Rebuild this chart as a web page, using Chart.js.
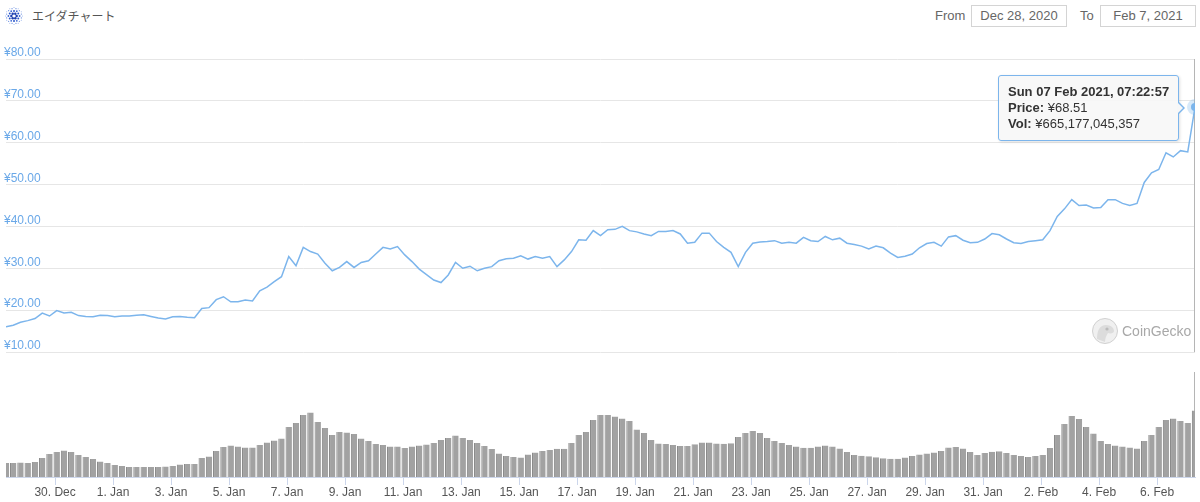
<!DOCTYPE html>
<html>
<head>
<meta charset="utf-8">
<script src="https://cdn.jsdelivr.net/npm/chart.js@4"></script>
<style>
  body { margin: 0; width: 1200px; height: 502px; background: #fff; position: relative; overflow: hidden;
         font-family: "Liberation Sans", Arial, sans-serif; }
  .abs { position: absolute; }
  #title { left: 32px; top: 7px; font: 12px "Noto Sans CJK JP", sans-serif; color: #555; line-height: 18px; }
  .lbl { top: 8px; font-size: 13px; color: #666; line-height: 16px; }
  .datebox { top: 5px; height: 20px; width: 94px; border: 1px solid #d4d4d4; font-size: 13px; color: #666;
             line-height: 20px; text-align: center; }
  #priceBox { left: 0; top: 40px; width: 1200px; height: 320px; }
  #volBox { left: 0; top: 360px; width: 1200px; height: 142px; }
  #tooltip { display: none; position: absolute; background: rgba(247,247,247,0.92); border: 1px solid #7cb5ec;
             border-radius: 3px; padding: 8px 9px; font-size: 13px; line-height: 16px; color: #333;
             white-space: nowrap; box-shadow: 1px 1px 3px rgba(0,0,0,0.12); }
  #tooltip:before { content: ""; position: absolute; right: -7px; top: 50%; margin-top: -7px; width: 0; height: 0;
             border-top: 7px solid transparent; border-bottom: 7px solid transparent; border-left: 7px solid #7cb5ec; }
  #tooltip:after { content: ""; position: absolute; right: -5px; top: 50%; margin-top: -6px; width: 0; height: 0;
             border-top: 6px solid transparent; border-bottom: 6px solid transparent; border-left: 6px solid #f7f7f7; }
  #watermark { left: 1091px; top: 317px; color: #a8a8a8; font-size: 14px; }
</style>
</head>
<body>
<svg class="abs" id="logo" style="left:5px;top:7px" width="18" height="18"></svg>
<div class="abs" id="title">エイダチャート</div>
<div class="abs lbl" style="left:935px">From</div>
<div class="abs datebox" style="left:971px">Dec 28, 2020</div>
<div class="abs lbl" style="left:1080px">To</div>
<div class="abs datebox" style="left:1100px">Feb 7, 2021</div>
<div class="abs" id="priceBox"><canvas id="price"></canvas></div>
<div class="abs" id="volBox"><canvas id="volume"></canvas></div>
<div class="abs" id="watermark">
  <svg width="28" height="28" style="vertical-align:middle">
    <circle cx="14" cy="14" r="12.5" fill="#f0f0f0" stroke="#d0d0d0"/>
    <path d="M6 22 C6 13 9 8 15 8 C20 8 23 11 23 14 C23 16 20 17 17 16 C15 19 14 22 14 25 Z" fill="#dcdcdc"/>
    <circle cx="16" cy="12" r="1.6" fill="#bbb"/>
  </svg><span style="vertical-align:middle;margin-left:3px">CoinGecko</span>
</div>
<div id="tooltip"></div>
<script>
// ADA / JPY, one sample every 6 hours from 28 Dec 2020 07:22:57 UTC
const startTime = Date.UTC(2020, 11, 28, 7, 22, 57);
const stepHours = 6;

const prices = [
  16.0, 16.4, 17.1, 17.5, 18.0, 19.3, 18.6, 19.9, 19.3, 19.5,
  18.7, 18.5, 18.4, 18.8, 18.7, 18.4, 18.6, 18.6, 18.8, 18.9,
  18.5, 18.1, 17.9, 18.4, 18.5, 18.3, 18.2, 20.4, 20.6, 22.5,
  23.2, 22.0, 22.0, 22.4, 22.2, 24.6, 25.5, 26.8, 28.0, 32.8,
  30.6, 35.0, 34.0, 33.4, 31.2, 29.4, 30.2, 31.6, 30.2, 31.4,
  31.8, 33.4, 35.0, 34.6, 35.2, 33.2, 31.6, 29.8, 28.5, 27.2,
  26.6, 28.4, 31.4, 30.0, 30.5, 29.4, 30.0, 30.4, 31.8, 32.3,
  32.4, 33.0, 32.2, 32.8, 32.4, 32.8, 30.4, 32.0, 34.0, 36.8,
  36.7, 39.0, 37.8, 39.2, 39.3, 40.0, 39.0, 38.7, 38.2, 37.8,
  38.8, 38.8, 39.0, 38.2, 36.0, 36.2, 38.4, 38.4, 36.4, 35.0,
  33.8, 30.4, 33.8, 36.0, 36.3, 36.4, 36.6, 36.0, 36.2, 36.0,
  37.4, 36.6, 36.4, 37.6, 36.8, 37.2, 36.0, 35.7, 35.3, 34.6,
  35.3, 34.9, 33.6, 32.6, 32.9, 33.4, 34.9, 35.9, 36.2, 35.3,
  37.5, 37.8, 36.7, 36.1, 36.2, 37.0, 38.3, 38.0, 37.0, 36.1,
  35.9, 36.4, 36.6, 36.8, 39.0, 42.4, 44.2, 46.4, 45.0, 45.1,
  44.4, 44.5, 46.4, 46.4, 45.5, 45.0, 45.5, 50.5, 52.8, 53.6,
  57.6, 56.6, 58.1, 57.8, 68.51
];

// volume in billions of yen
const volumes = [
  140, 140, 145, 140, 150, 190, 230, 250, 265, 250,
  220, 200, 180, 155, 140, 120, 110, 100, 100, 100,
  100, 100, 105, 110, 125, 130, 130, 190, 205, 260,
  300, 315, 305, 295, 295, 320, 345, 365, 385, 500,
  540, 620, 645, 550, 490, 420, 450, 445, 430, 385,
  360, 330, 320, 305, 305, 290, 305, 315, 325, 340,
  370, 390, 415, 390, 370, 340, 310, 280, 235, 210,
  200, 195, 225, 245, 260, 270, 283, 283, 340, 420,
  450, 570, 620, 620, 605, 585, 560, 475, 440, 370,
  335, 330, 320, 310, 310, 327, 345, 345, 335, 333,
  338, 400, 440, 460, 440, 390, 360, 340, 320, 305,
  293, 293, 305, 315, 305, 285, 250, 220, 212, 207,
  198, 188, 183, 183, 195, 210, 225, 235, 245, 260,
  295, 300, 285, 250, 220, 240, 252, 258, 240, 220,
  210, 200, 210, 220, 290, 420, 530, 610, 580, 500,
  435, 360, 330, 315, 305, 295, 285, 360, 420, 500,
  570, 585, 560, 540, 665.177045357
];

const tickDates = ['2020-12-30', '2021-01-01', '2021-01-03', '2021-01-05', '2021-01-07', '2021-01-09',
  '2021-01-11', '2021-01-13', '2021-01-15', '2021-01-17', '2021-01-19', '2021-01-21', '2021-01-23',
  '2021-01-25', '2021-01-27', '2021-01-29', '2021-01-31', '2021-02-02', '2021-02-04', '2021-02-06'];
const tickLabels = ['30. Dec', '1. Jan', '3. Jan', '5. Jan', '7. Jan', '9. Jan', '11. Jan', '13. Jan',
  '15. Jan', '17. Jan', '19. Jan', '21. Jan', '23. Jan', '25. Jan', '27. Jan', '29. Jan', '31. Jan',
  '2. Feb', '4. Feb', '6. Feb'];

const priceTicks = [10, 20, 30, 40, 50, 60, 70, 80];

const times = prices.map((p, i) => startTime + i * stepHours * 3600000);
const endTime = times[times.length - 1];
const last = prices.length - 1;

const fontFamily = '"Liberation Sans", Arial, sans-serif';
const dayNames = ['Sun', 'Mon', 'Tue', 'Wed', 'Thu', 'Fri', 'Sat'];
const monthNames = ['Jan', 'Feb', 'Mar', 'Apr', 'May', 'Jun', 'Jul', 'Aug', 'Sep', 'Oct', 'Nov', 'Dec'];

function pad(n) {
  return String(n).padStart(2, '0');
}

function formatTime(t) {
  const d = new Date(t);
  return dayNames[d.getUTCDay()] + ' ' + pad(d.getUTCDate()) + ' ' + monthNames[d.getUTCMonth()] + ' ' +
    d.getUTCFullYear() + ', ' + pad(d.getUTCHours()) + ':' + pad(d.getUTCMinutes()) + ':' + pad(d.getUTCSeconds());
}

// cardano logo dots
function drawLogo() {
  const svg = document.getElementById('logo');
  let html = '';
  const rings = [[2.6, 0, 1.25, '#1d3fb0'], [4.9, 30, 1.0, '#2a55c9'], [5.6, 0, 0.9, '#3a66d4'],
                 [7.6, 15, 0.65, '#6b8fe0'], [8.4, 0, 0.5, '#8eaaea']];
  rings.forEach(r => {
    const n = r[0] > 7 ? 12 : 6;
    for (let i = 0; i < n; i++) {
      const a = (r[1] + i * 360 / n) * Math.PI / 180;
      html += '<circle cx="' + (9 + r[0] * Math.cos(a)) + '" cy="' + (9 + r[0] * Math.sin(a)) +
        '" r="' + r[2] + '" fill="' + r[3] + '"/>';
    }
  });
  svg.innerHTML = html;
}
drawLogo();

// vertical crosshair at the last sample
const crosshair = {
  id: 'crosshair',
  beforeDatasetsDraw(chart) {
    const x = Math.round(chart.scales.x.getPixelForValue(endTime)) - 0.5;
    const area = chart.chartArea;
    const ctx = chart.ctx;
    ctx.save();
    ctx.strokeStyle = '#b5b5b5';
    ctx.lineWidth = 1;
    ctx.beginPath();
    ctx.moveTo(x, area.top);
    ctx.lineTo(x, area.bottom);
    ctx.stroke();
    ctx.restore();
  }
};

function showTooltip(context) {
  const tip = context.tooltip;
  const el = document.getElementById('tooltip');
  if (tip.opacity === 0 || !tip.dataPoints || !tip.dataPoints.length) {
    el.style.display = 'none';
    return;
  }
  const i = tip.dataPoints[0].dataIndex;
  el.innerHTML = '<b>' + formatTime(times[i]) + '</b><br>' +
    '<b>Price:</b> ¥' + prices[i].toFixed(2) + '<br>' +
    '<b>Vol:</b> ¥' + Math.round(volumes[i] * 1e9).toLocaleString('en-US');
  el.style.display = 'block';
  const box = context.chart.canvas.getBoundingClientRect();
  el.style.left = (box.left + tip.caretX - 16 - el.offsetWidth) + 'px';
  el.style.top = (box.top + tip.caretY + 1 - el.offsetHeight / 2) + 'px';
}

const priceChart = new Chart(document.getElementById('price'), {
  type: 'line',
  data: {
    datasets: [{
      data: times.map((t, i) => ({ x: t, y: prices[i] })),
      borderColor: '#7cb5ec',
      borderWidth: 1.5,
      tension: 0,
      pointRadius: ctx => ctx.dataIndex === last ? 4 : 0,
      pointBackgroundColor: '#7cb5ec',
      pointBorderColor: 'rgba(124,181,236,0.3)',
      pointBorderWidth: 8,
      pointHoverRadius: 4
    }]
  },
  options: {
    responsive: true,
    maintainAspectRatio: false,
    animation: false,
    events: [],
    layout: { autoPadding: false, padding: { top: 19, bottom: 8, left: 6, right: 5 } },
    scales: {
      x: { type: 'linear', min: startTime, max: endTime, display: false },
      y: {
        min: 10,
        max: 80,
        afterBuildTicks: scale => { scale.ticks = priceTicks.map(v => ({ value: v })); },
        ticks: {
          mirror: true,
          padding: -0.67,
          labelOffset: -6,
          color: '#6aa8e8',
          font: { size: 12, family: fontFamily },
          callback: v => '¥' + v.toFixed(2)
        },
        grid: { color: '#e6e6e6', drawTicks: false },
        border: { display: false }
      }
    },
    plugins: {
      legend: { display: false },
      tooltip: { enabled: false, external: showTooltip }
    }
  },
  plugins: [crosshair]
});

new Chart(document.getElementById('volume'), {
  type: 'bar',
  data: {
    datasets: [{
      data: times.map((t, i) => ({ x: t, y: volumes[i] })),
      backgroundColor: '#a2a2a2',
      borderColor: '#7d7d7d',
      borderWidth: { left: 1, right: 0, top: 0, bottom: 0 },
      borderSkipped: false,
      barPercentage: 0.88,
      categoryPercentage: 1
    }]
  },
  options: {
    responsive: true,
    maintainAspectRatio: false,
    animation: false,
    events: [],
    layout: { autoPadding: false, padding: { top: 12, bottom: 2.6, left: 6, right: 5 } },
    scales: {
      x: {
        type: 'linear',
        min: startTime,
        max: endTime,
        offset: false,
        afterBuildTicks: scale => { scale.ticks = tickDates.map(d => ({ value: Date.parse(d) })); },
        ticks: {
          autoSkip: false,
          maxRotation: 0,
          padding: 0,
          color: '#555',
          font: { size: 12, family: fontFamily },
          callback: (v, i) => tickLabels[i]
        },
        grid: { drawOnChartArea: false, offset: false, color: '#ccd6eb', tickLength: 8 },
        border: { color: '#ccd6eb' }
      },
      y: { display: false, min: 0, max: 1050 }
    },
    plugins: { legend: { display: false }, tooltip: { enabled: false } }
  },
  plugins: [crosshair]
});

priceChart.tooltip.setActiveElements([{ datasetIndex: 0, index: last }], { x: 0, y: 0 });
</script>
</body>
</html>
